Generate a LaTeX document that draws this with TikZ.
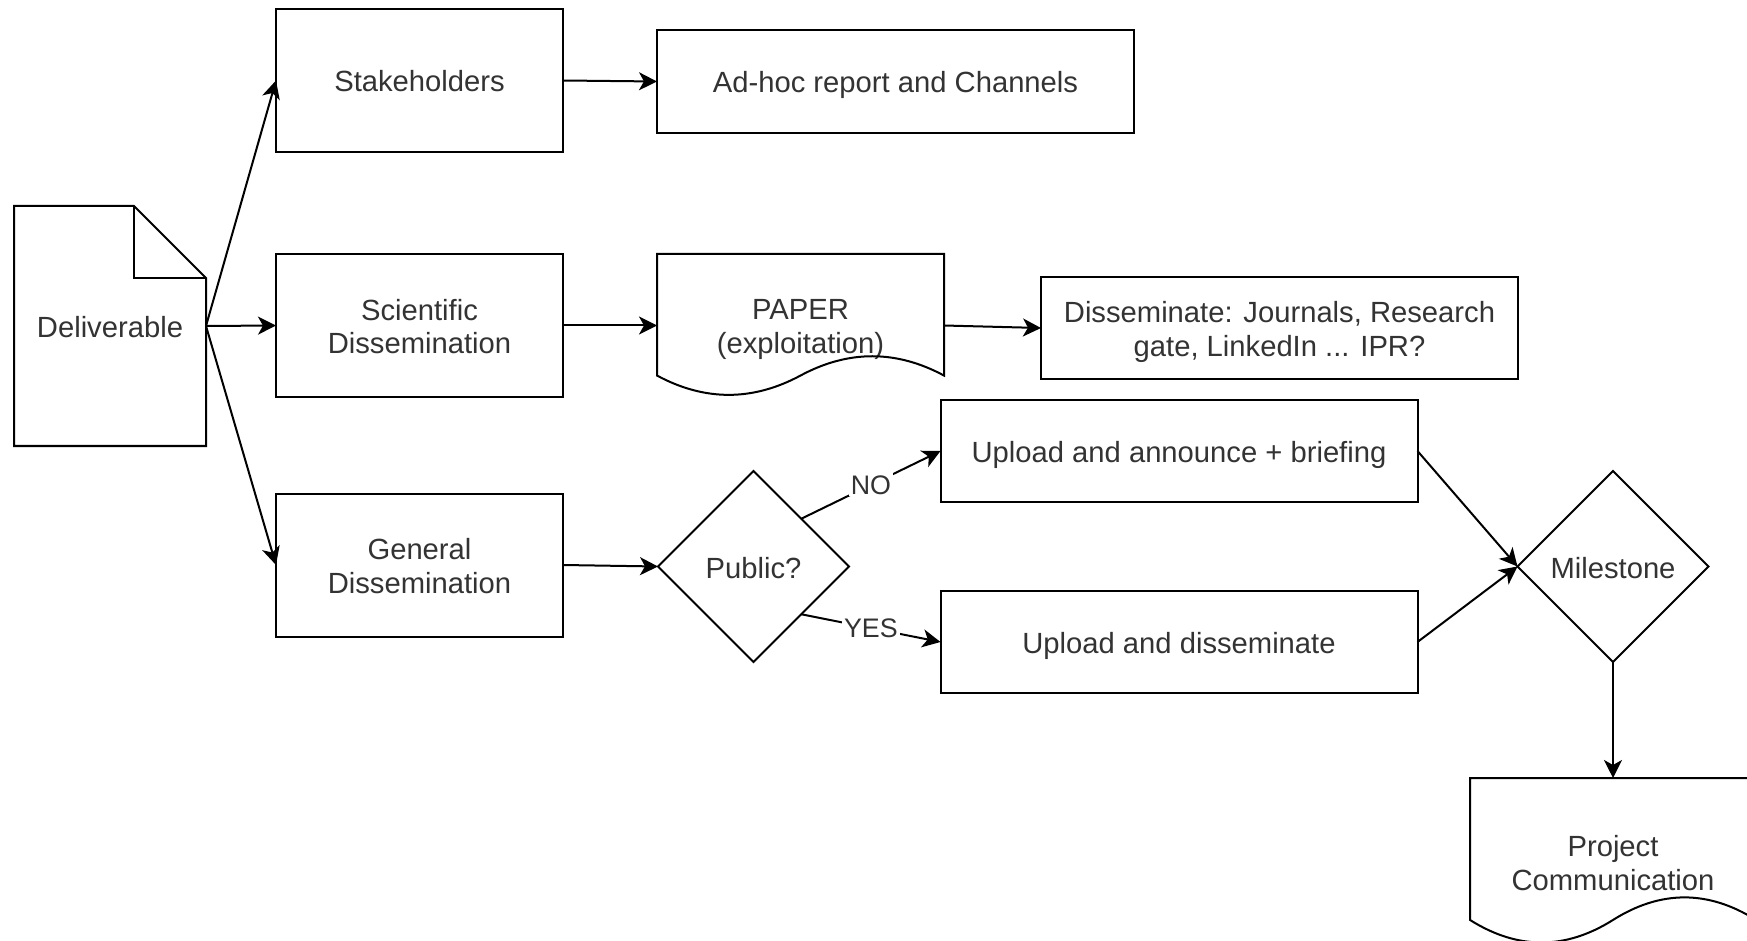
\documentclass[tikz,border=0pt]{standalone}
\usepackage{fontspec}
\setmainfont{Liberation Sans}
\usetikzlibrary{shapes.geometric,arrows.meta,calc}
\definecolor{txt}{RGB}{51,51,51}
\newcommand\lstrut{\rule[-2.75pt]{0pt}{17pt}}
\newcommand\nodefont{\fontsize{14.6}{17}\selectfont\lineskiplimit -30pt\relax}
\newcommand\docpath[1]{%
\draw[shapeline] let \p1=(#1.north west), \p2=(#1.south east) in
 (\p1) -- (\x2,\y1) -- (\x2,{\y2+0.15*(\y1-\y2)})
 .. controls ({\x1+5*(\x2-\x1)/6},{\y2+0.33*(\y1-\y2)}) and ({\x1+2*(\x2-\x1)/3},{\y2+0.33*(\y1-\y2)}) .. ({\x1+0.5*(\x2-\x1)},{\y2+0.15*(\y1-\y2)})
 .. controls ({\x1+(\x2-\x1)/3},{\y2-0.03*(\y1-\y2)}) and ({\x1+(\x2-\x1)/6},{\y2-0.03*(\y1-\y2)}) .. (\x1,{\y2+0.15*(\y1-\y2)}) -- cycle;}
\begin{document}
\begin{tikzpicture}[x=0.5pt,y=-0.5pt,
  shapeline/.style={line width=1pt, draw=black},
  base/.style={font=\nodefont, text=txt, align=center, inner sep=0pt, outer sep=0pt},
  box/.style={base, draw, line width=1pt, rectangle},
  sbox/.style={box, minimum width=143.5pt, minimum height=71.5pt},
  wbox/.style={box, minimum width=238.5pt, minimum height=51pt},
  docnode/.style={base, minimum width=143.5pt, minimum height=71.5pt},
  dia/.style={base, draw, line width=1pt, diamond, minimum width=95.5pt, minimum height=95.5pt},
  arr/.style={line width=1pt, -{Stealth[length=9pt,width=9pt,inset=2.5pt]}},
  lbl/.style={font=\fontsize{13.4}{15}\selectfont, text=txt, fill=white, inner sep=1pt}
]
\useasboundingbox (0,0) rectangle (1747,941);
\fill[white] (0,0) rectangle (1747,941);

\node[base, minimum width=96pt, minimum height=120pt] (deliv) at (110,326) {\lstrut Deliverable\lstrut};
\draw[shapeline] (deliv.north west) -- ([xshift=-36pt]deliv.north east) -- ([yshift=-36pt]deliv.north east) -- (deliv.south east) -- (deliv.south west) -- cycle;
\draw[shapeline] ([xshift=-36pt]deliv.north east) -- ([xshift=-36pt,yshift=-36pt]deliv.north east) -- ([yshift=-36pt]deliv.north east);

\node[sbox] (stake) at (419.5,80.5) {\lstrut Stakeholders\lstrut};
\node[box, minimum width=238.5pt, minimum height=51.5pt] (adhoc) at (895.5,81.5) {\lstrut Ad-hoc report and Channels\lstrut};
\node[sbox] (sci) at (419.5,325.5) {\lstrut Scientific\\Dissemination\lstrut};
\node[docnode] (paper) at (800.5,325.5) {\lstrut PAPER\\(exploitation)\lstrut};
\docpath{paper}
\node[wbox] (diss) at (1279.5,328) {\lstrut Disseminate: Journals, Research\\gate, LinkedIn ... IPR?\lstrut};
\node[sbox] (gen) at (419.5,565) {\lstrut General\\Dissemination\lstrut};
\node[dia] (pub) at (753.5,566.5) {\lstrut Public?\lstrut};
\node[wbox] (up1) at (1179,451) {\lstrut Upload and announce + briefing\lstrut};
\node[wbox] (up2) at (1179,642) {\lstrut Upload and disseminate\lstrut};
\node[dia] (mile) at (1613,566.5) {\lstrut Milestone\lstrut};
\node[docnode, minimum width=143pt, minimum height=83.5pt] (proj) at (1613,861.5) {\lstrut Project\\Communication\lstrut};
\docpath{proj}

\draw[arr] (deliv.east) -- (stake.west);
\draw[arr] (deliv.east) -- (sci.west);
\draw[arr] (deliv.east) -- (gen.west);
\draw[arr] (stake.east) -- (adhoc.west);
\draw[arr] (sci.east) -- (paper.west);
\draw[arr] (paper.east) -- (diss.west);
\draw[arr] (gen.east) -- (pub.west);
\draw[arr] ($(pub.north)!0.5!(pub.east)$) -- node[lbl]{NO} (up1.west);
\draw[arr] ($(pub.south)!0.5!(pub.east)$) -- node[lbl]{YES} (up2.west);
\draw[arr] (up1.east) -- (mile.west);
\draw[arr] (up2.east) -- (mile.west);
\draw[arr] (mile.south) -- (proj.north);
\end{tikzpicture}
\end{document}
